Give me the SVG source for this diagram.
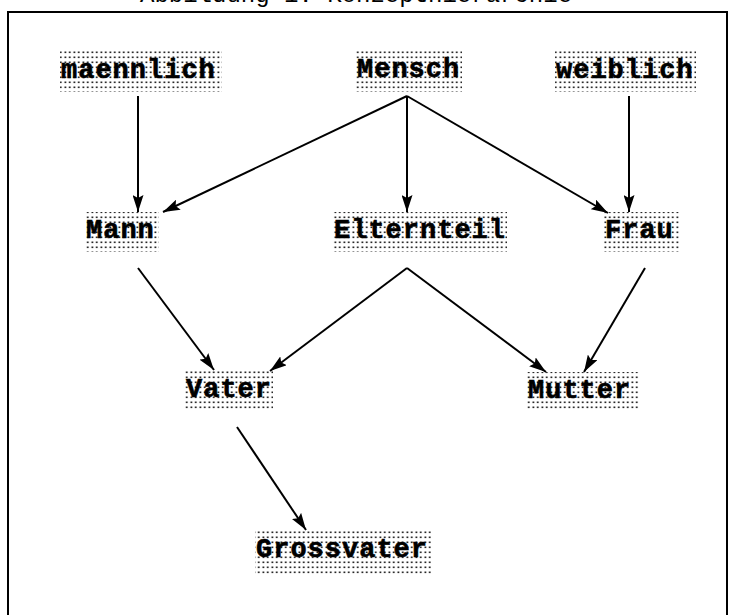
<svg xmlns="http://www.w3.org/2000/svg" width="734" height="615" viewBox="0 0 734 615">
<style>
.lbl{font-family:"Liberation Mono","Courier New",monospace;font-weight:bold;font-size:27px;letter-spacing:1px;fill:#000;stroke:#000;stroke-width:0.6}
.cap{font-family:"Liberation Mono","Courier New",monospace;font-size:24px;fill:#000}
.box{fill:url(#dots)}
.edge{stroke:#000;stroke-width:2;fill:none;marker-end:url(#arr)}
</style>
<defs>
<pattern id="dots" patternUnits="userSpaceOnUse" width="4.5" height="5">
<rect x="1.5" y="1.5" width="1.6" height="1.6" fill="#000"/>
</pattern>
<marker id="arr" markerUnits="userSpaceOnUse" viewBox="0 0 17 11" refX="17" refY="5.5" markerWidth="17" markerHeight="11" orient="auto">
<path d="M0,0 L17,5.5 L0,11 L3,5.5 Z" fill="#000"/>
</marker>
</defs>
<rect width="734" height="615" fill="#fff"/>
<text class="cap" x="140" y="1.5">Abbildung 1: Konzepthierarchie</text>
<rect x="8" y="12" width="719" height="620" fill="none" stroke="#000" stroke-width="2"/>
<g id="connectors">
<line class="edge" x1="138" y1="96" x2="138" y2="212"/>
<line class="edge" x1="407" y1="96" x2="163" y2="212"/>
<line class="edge" x1="407" y1="96" x2="407" y2="212"/>
<line class="edge" x1="407" y1="96" x2="608" y2="213"/>
<line class="edge" x1="629" y1="96" x2="629" y2="212"/>
<line class="edge" x1="138" y1="268" x2="214" y2="370"/>
<line class="edge" x1="407" y1="268" x2="270" y2="371"/>
<line class="edge" x1="407" y1="268" x2="546" y2="372"/>
<line class="edge" x1="645" y1="268" x2="584" y2="372"/>
<line class="edge" x1="237" y1="427" x2="306" y2="530"/>
</g>
<g id="maennlich"><rect class="box" x="60" y="50" width="162" height="42"/><text class="lbl" x="61" y="78">maennlich</text></g>
<g id="Mensch"><rect class="box" x="356" y="50" width="106" height="42"/><text class="lbl" x="357" y="77">Mensch</text></g>
<g id="weiblich"><rect class="box" x="555" y="50" width="141" height="42"/><text class="lbl" x="556" y="78">weiblich</text></g>
<g id="Mann"><rect class="box" x="85" y="212" width="74" height="40"/><text class="lbl" x="86" y="238">Mann</text></g>
<g id="Elternteil"><rect class="box" x="333" y="212" width="174" height="40"/><text class="lbl" x="334" y="238">Elternteil</text></g>
<g id="Frau"><rect class="box" x="604" y="212" width="75" height="40"/><text class="lbl" x="605" y="238">Frau</text></g>
<g id="Vater"><rect class="box" x="185" y="371" width="88" height="38"/><text class="lbl" x="186" y="397">Vater</text></g>
<g id="Mutter"><rect class="box" x="527" y="372" width="112" height="38"/><text class="lbl" x="528" y="398">Mutter</text></g>
<g id="Grossvater"><rect class="box" x="255" y="531" width="176" height="44"/><text class="lbl" x="256" y="557">Grossvater</text></g>
</svg>
